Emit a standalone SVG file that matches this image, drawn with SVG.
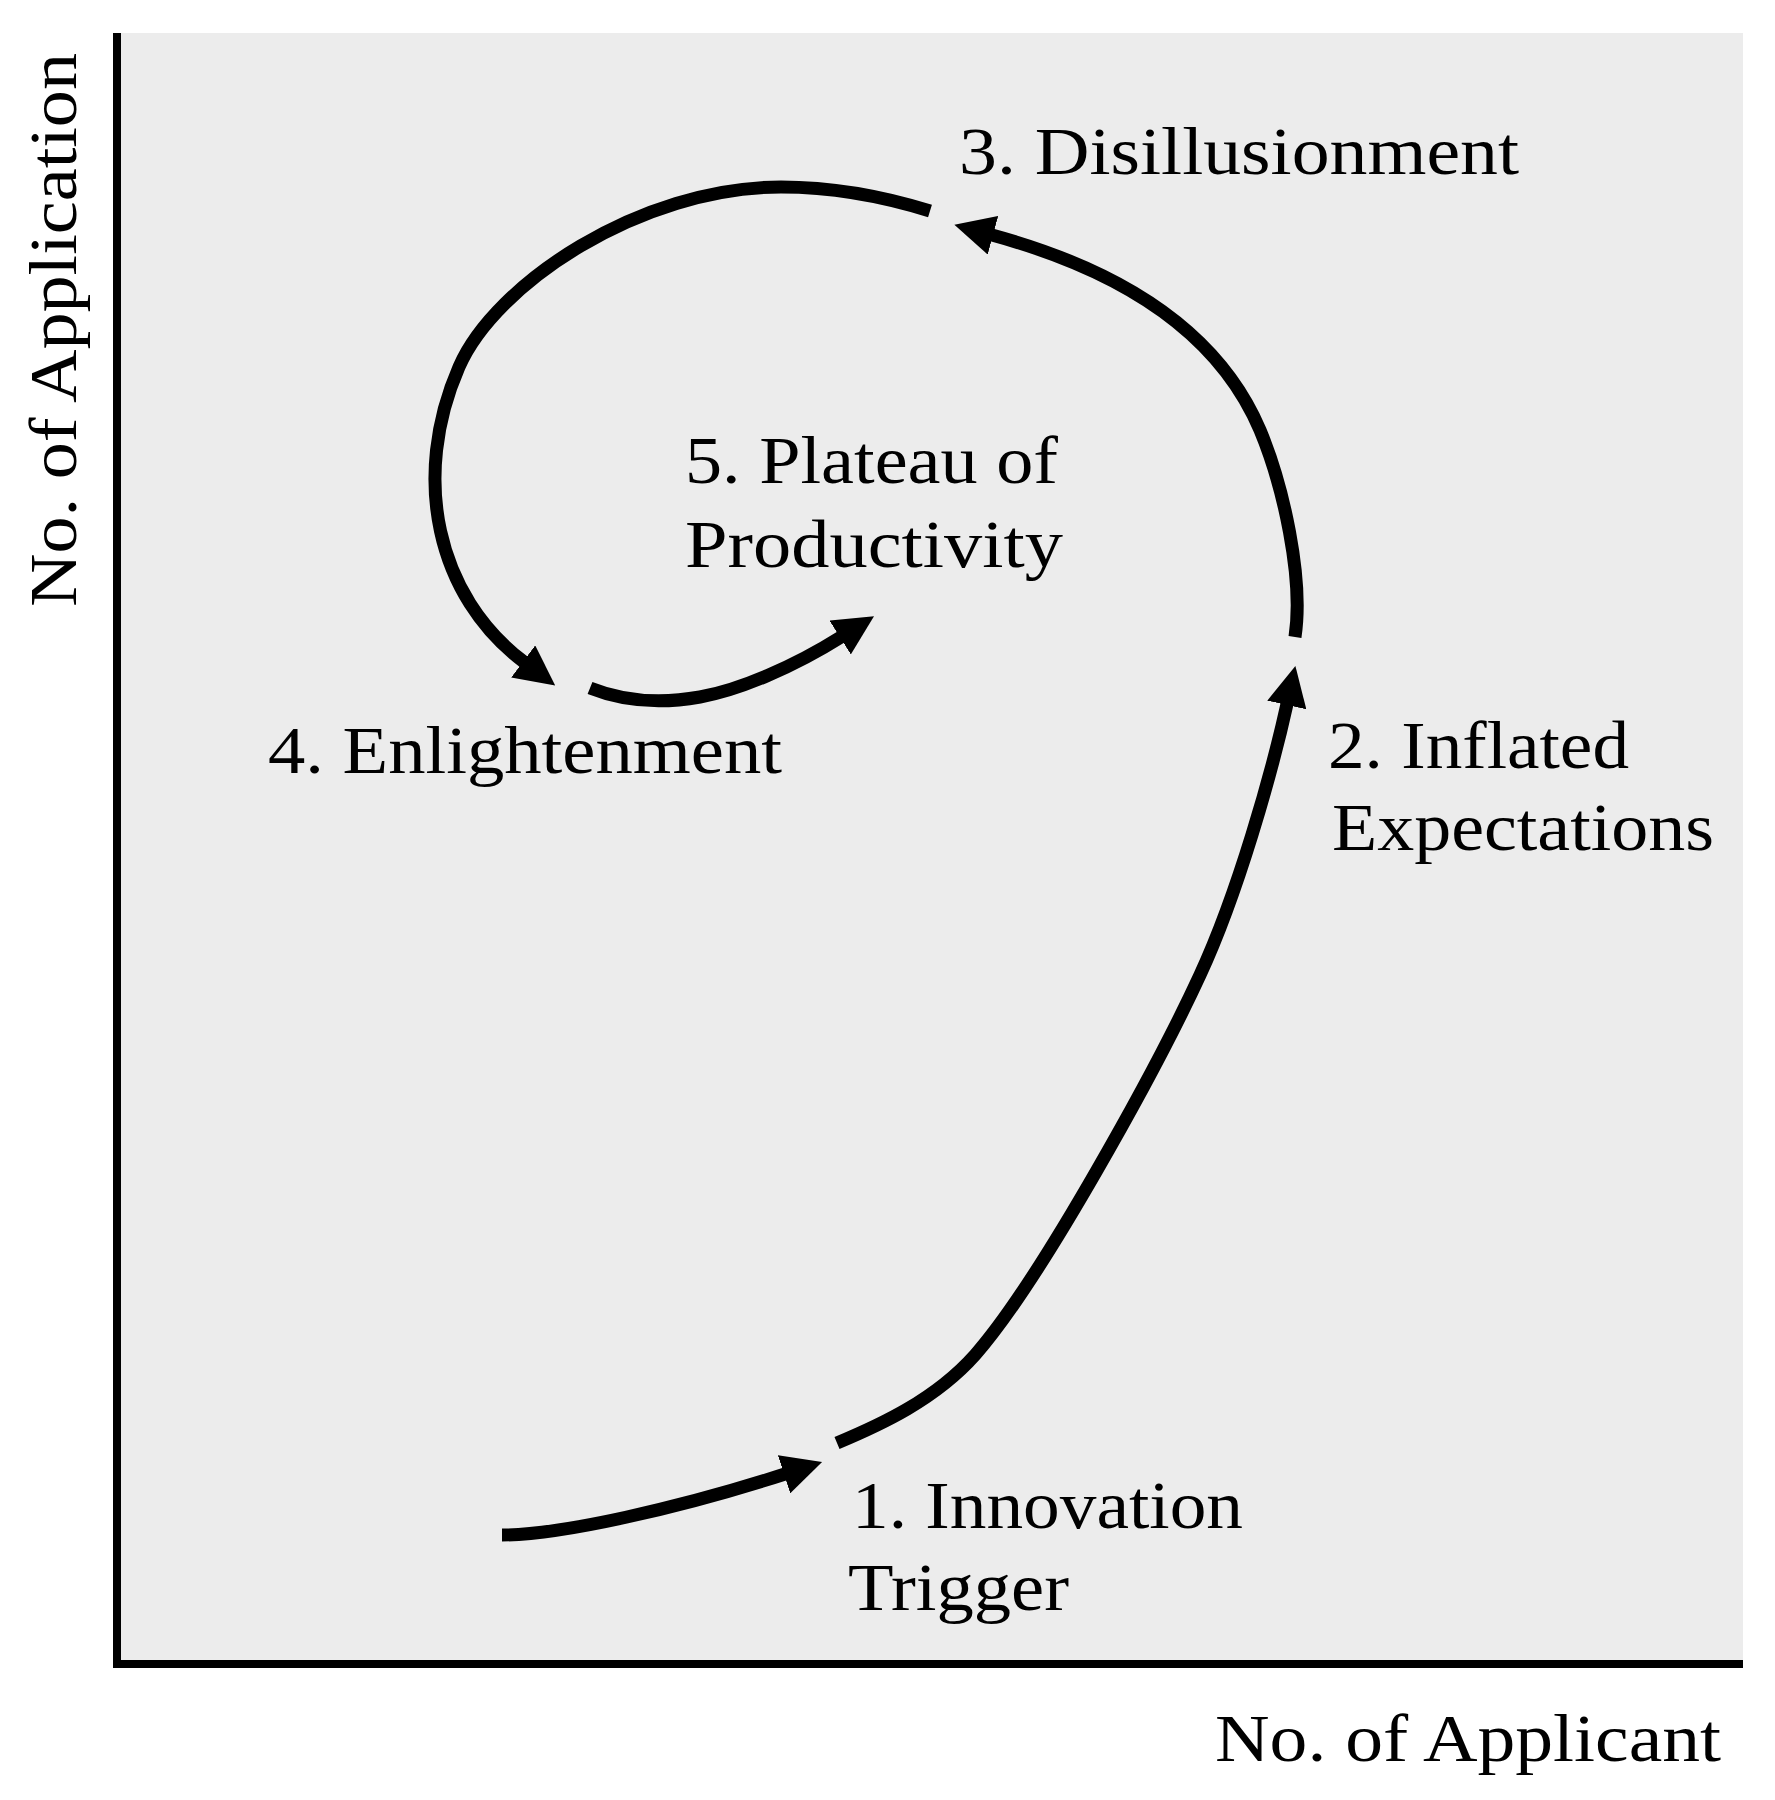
<svg xmlns="http://www.w3.org/2000/svg" width="1775" height="1800" viewBox="0 0 1775 1800">
  <style>
    .lbl { font-family: "Liberation Serif", "Times New Roman", serif; font-size: 68px; fill: #000; }
    .curve { fill: none; stroke: #000; stroke-width: 13; stroke-linecap: butt; }
    .axis { fill: none; stroke: #000; stroke-width: 8; }
  </style>
  <defs>
    <marker id="ah" markerUnits="userSpaceOnUse" markerWidth="40" markerHeight="40" viewBox="0 0 40 40" refX="1" refY="20" orient="auto">
      <path d="M0,0 L40,20 L0,40 Z" fill="#000"/>
    </marker>
  </defs>
  <rect width="1775" height="1800" fill="#ffffff"/>
  <g id="plot-area">
    <rect x="121" y="33" width="1622" height="1627" fill="#ececec"/>
    <path class="axis" d="M117,33 L117,1664 L1743,1664"/>
  </g>
  <g id="connectors">
    <path class="curve" marker-end="url(#ah)" d="M502,1535 C560,1535 680,1508 785,1474"/>
    <path class="curve" marker-end="url(#ah)" d="M837,1443 C880,1425 935,1400 975,1355 C1041,1280 1158,1066 1200,975 C1238,893 1272,772 1287,704"/>
    <path class="curve" marker-end="url(#ah)" d="M1295,637 C1304,578 1283,485 1260,430 C1217,329 1117,269 992,235"/>
    <path class="curve" marker-end="url(#ah)" d="M930,211 C885,197 831,187 781,187 C640,187 495,284 459,367 C411,477 436,596 524,662"/>
    <path class="curve" marker-end="url(#ah)" d="M590,688 C620,700 655,705 700,697 C740,690 795,666 841,637"/>
  </g>
  <g id="node-1">
    <text class="lbl" x="852" y="1528" textLength="391" lengthAdjust="spacingAndGlyphs">1. Innovation</text>
    <text class="lbl" x="848" y="1610" textLength="221" lengthAdjust="spacingAndGlyphs">Trigger</text>
  </g>
  <g id="node-2">
    <text class="lbl" x="1328" y="768" textLength="301" lengthAdjust="spacingAndGlyphs">2. Inflated</text>
    <text class="lbl" x="1332" y="850" textLength="382" lengthAdjust="spacingAndGlyphs">Expectations</text>
  </g>
  <g id="node-3">
    <text class="lbl" x="959" y="174" textLength="560" lengthAdjust="spacingAndGlyphs">3. Disillusionment</text>
  </g>
  <g id="node-4">
    <text class="lbl" x="268" y="773" textLength="514" lengthAdjust="spacingAndGlyphs">4. Enlightenment</text>
  </g>
  <g id="node-5">
    <text class="lbl" x="685" y="483" textLength="373" lengthAdjust="spacingAndGlyphs">5. Plateau of</text>
    <text class="lbl" x="685" y="567" textLength="378" lengthAdjust="spacingAndGlyphs">Productivity</text>
  </g>
  <g id="x-axis-label">
    <text class="lbl" x="1215" y="1761" textLength="506" lengthAdjust="spacingAndGlyphs">No. of Applicant</text>
  </g>
  <g id="y-axis-label">
    <text class="lbl" transform="translate(76,607) rotate(-90)" x="0" y="0" textLength="554" lengthAdjust="spacingAndGlyphs">No. of Application</text>
  </g>
</svg>
